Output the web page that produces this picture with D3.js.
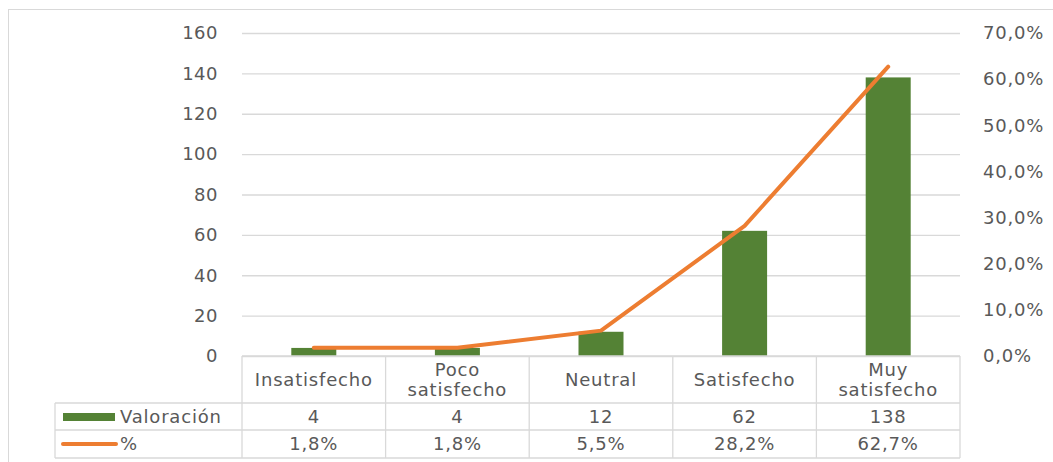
<!DOCTYPE html>
<html>
<head>
<meta charset="utf-8">
<script src="https://cdn.jsdelivr.net/npm/d3@7"></script>
<style>
  body { margin: 0; background: #fff; }
  text { font-family: "Century Gothic", "DejaVu Sans", sans-serif; fill: #595959; }
</style>
</head>
<body>
<div class="chart"></div>
<script>
var categories = ["Insatisfecho", "Poco satisfecho", "Neutral", "Satisfecho", "Muy satisfecho"];
var categoryLines = [["Insatisfecho"], ["Poco", "satisfecho"], ["Neutral"], ["Satisfecho"], ["Muy", "satisfecho"]];
var valoracion = [4, 4, 12, 62, 138];
var porcentaje = [1.8, 1.8, 5.5, 28.2, 62.7];
var leftTicks = [0, 20, 40, 60, 80, 100, 120, 140, 160];
var rightTicks = [0, 10, 20, 30, 40, 50, 60, 70];

var W = 1053, H = 462;
var plot = { left: 242, right: 960, top: 33, bottom: 356 };
var tableLeft = 55;
var rowTop = 356, row1 = 403, row2 = 430, rowBottom = 458;
var grid = "#d9d9d9";
var green = "#548235", orange = "#ED7D31";
var fmt = v => d3.format(".1f")(v).replace(".", ",") + "%";

var svg = d3.select(".chart").append("svg")
  .attr("width", W).attr("height", H);

// chart frame (cropped on the right)
svg.append("rect")
  .attr("x", 8.5).attr("y", 9.5)
  .attr("width", W + 20).attr("height", H + 20)
  .attr("fill", "none").attr("stroke", grid);

var x = d3.scaleBand().domain(categories).range([plot.left, plot.right]).padding(0);
var yL = d3.scaleLinear().domain([0, 160]).range([plot.bottom, plot.top]);
var yR = d3.scaleLinear().domain([0, 70]).range([plot.bottom, plot.top]);

// gridlines
svg.append("g")
  .attr("transform", `translate(${plot.left},0)`)
  .call(d3.axisLeft(yL).tickValues(leftTicks).tickSize(-(plot.right - plot.left)).tickFormat(""))
  .call(g => g.select(".domain").remove())
  .call(g => g.selectAll("line").attr("stroke", grid).attr("stroke-width", 1.3));

// left axis labels
svg.append("g")
  .attr("transform", `translate(${plot.left},0)`)
  .call(d3.axisLeft(yL).tickValues(leftTicks).tickSize(0).tickPadding(24))
  .call(g => g.select(".domain").remove())
  .call(g => g.selectAll("text").attr("font-size", 18).style("letter-spacing", "0.5px")
    .attr("font-family", null).attr("fill", "#595959"));

// right axis labels
svg.append("g")
  .attr("transform", `translate(${plot.right},0)`)
  .call(d3.axisRight(yR).tickValues(rightTicks).tickSize(0).tickPadding(23).tickFormat(d => fmt(d)))
  .call(g => g.select(".domain").remove())
  .call(g => g.selectAll("text").attr("font-size", 18).style("letter-spacing", "0.8px")
    .attr("font-family", null).attr("fill", "#595959"));

// bars
var bw = 45;
svg.append("g").selectAll("rect")
  .data(valoracion)
  .enter().append("rect")
  .attr("x", (d, i) => x(categories[i]) + x.bandwidth() / 2 - bw / 2)
  .attr("y", d => yL(d))
  .attr("width", bw)
  .attr("height", d => yL(0) - yL(d))
  .attr("fill", green);

// line
var line = d3.line()
  .x((d, i) => x(categories[i]) + x.bandwidth() / 2)
  .y(d => yR(d));
svg.append("path")
  .datum(porcentaje)
  .attr("d", line)
  .attr("fill", "none")
  .attr("stroke", orange)
  .attr("stroke-width", 4)
  .attr("stroke-linejoin", "round")
  .attr("stroke-linecap", "round");

// data table
var t = svg.append("g").attr("stroke", grid).attr("stroke-width", 1.3);
t.append("line").attr("x1", plot.left).attr("x2", plot.right).attr("y1", rowTop).attr("y2", rowTop);
[row1, row2, rowBottom].forEach(y => {
  t.append("line").attr("x1", tableLeft).attr("x2", plot.right).attr("y1", y).attr("y2", y);
});
t.append("line").attr("x1", tableLeft).attr("x2", tableLeft).attr("y1", row1).attr("y2", rowBottom);
categories.forEach(c => {
  t.append("line").attr("x1", x(c)).attr("x2", x(c)).attr("y1", rowTop).attr("y2", rowBottom);
});
t.append("line").attr("x1", plot.right).attr("x2", plot.right).attr("y1", rowTop).attr("y2", rowBottom);

var txt = svg.append("g").attr("font-size", 18).attr("text-anchor", "middle")
  .style("letter-spacing", "0.8px");

categoryLines.forEach((lines, i) => {
  var cx = x(categories[i]) + x.bandwidth() / 2;
  var cy = (rowTop + row1) / 2;
  lines.forEach((l, j) => {
    txt.append("text")
      .attr("x", cx)
      .attr("y", cy + (j - (lines.length - 1) / 2) * 20)
      .attr("dy", "0.35em")
      .text(l);
  });
});

valoracion.forEach((v, i) => {
  txt.append("text")
    .attr("x", x(categories[i]) + x.bandwidth() / 2)
    .attr("y", (row1 + row2) / 2).attr("dy", "0.35em")
    .text(v);
});
porcentaje.forEach((v, i) => {
  txt.append("text")
    .attr("x", x(categories[i]) + x.bandwidth() / 2)
    .attr("y", (row2 + rowBottom) / 2).attr("dy", "0.35em")
    .text(fmt(v));
});

// legend keys inside table
svg.append("rect").attr("x", 63).attr("y", 413).attr("width", 52).attr("height", 8).attr("fill", green);
svg.append("text").attr("x", 120).attr("y", (row1 + row2) / 2).attr("dy", "0.35em")
  .attr("font-size", 18).style("letter-spacing", "0.8px").text("Valoración");
svg.append("line").attr("x1", 63).attr("x2", 116).attr("y1", 444).attr("y2", 444)
  .attr("stroke", orange).attr("stroke-width", 4).attr("stroke-linecap", "round");
svg.append("text").attr("x", 120).attr("y", (row2 + rowBottom) / 2).attr("dy", "0.35em")
  .attr("font-size", 18).text("%");
</script>
</body>
</html>
